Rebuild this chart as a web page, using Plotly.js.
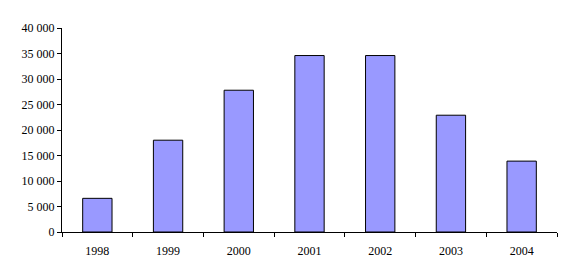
<!DOCTYPE html>
<html>
<head>
<meta charset="utf-8">
<script src="https://cdn.plot.ly/plotly-3.0.1.min.js"></script>
<style>html,body{margin:0;padding:0;background:#fff;}#chart{width:573px;height:279px;}</style>
</head>
<body>
<div id="chart"></div>
<script>
const years = ["1998", "1999", "2000", "2001", "2002", "2003", "2004"];
const values = [6600, 18000, 27800, 34600, 34600, 22900, 13900];
const yTicks = [0, 5000, 10000, 15000, 20000, 25000, 30000, 35000, 40000];

Plotly.newPlot("chart", [{
  type: "bar",
  x: years,
  y: values,
  marker: {color: "#9999FF", line: {color: "#000000", width: 1}},
  hoverinfo: "none"
}], {
  width: 573,
  height: 279,
  margin: {l: 62, r: 16, t: 28, b: 47},
  paper_bgcolor: "#ffffff",
  plot_bgcolor: "#ffffff",
  separators: ", ",
  bargap: 0.585,
  showlegend: false,
  font: {family: "Liberation Serif, Times New Roman, serif", size: 12, color: "#000000"},
  xaxis: {
    type: "category",
    showline: true, linecolor: "#000000", linewidth: 1,
    ticks: "outside", ticklen: 4, tickcolor: "#000000", tickwidth: 1,
    tickson: "boundaries",
    ticklabelstandoff: 8,
    showgrid: false, zeroline: false,
    tickfont: {size: 12}
  },
  yaxis: {
    range: [0, 40000],
    tickvals: yTicks,
    tickformat: ",",
    showline: true, linecolor: "#000000", linewidth: 1,
    ticks: "outside", ticklen: 4, tickcolor: "#000000", tickwidth: 1,
    showgrid: false, zeroline: false,
    tickfont: {size: 12}
  }
}, {staticPlot: true, displayModeBar: false});
</script>
</body>
</html>
